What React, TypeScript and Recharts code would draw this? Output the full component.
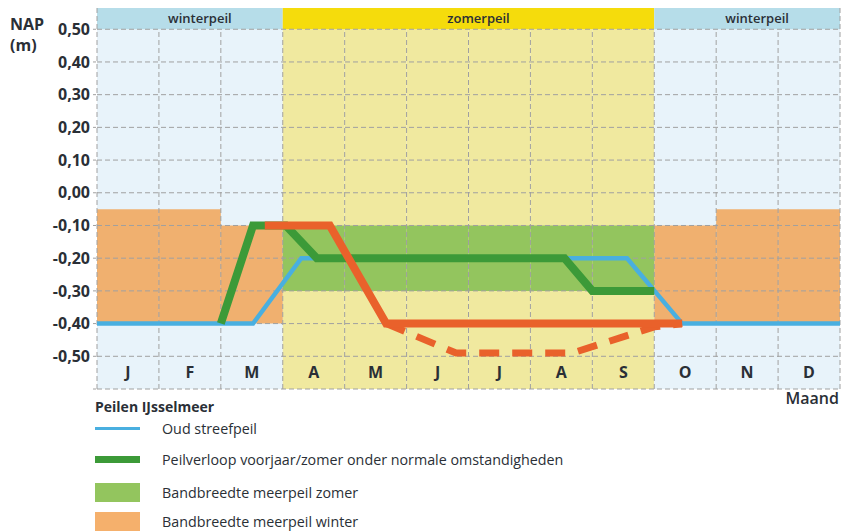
import { ComposedChart, Line, XAxis, YAxis, ReferenceArea, ReferenceLine } from 'recharts'

const MONTHS = ['J', 'F', 'M', 'A', 'M', 'J', 'J', 'A', 'S', 'O', 'N', 'D']
const SEASON = ['w', 'w', 'w', 'z', 'z', 'z', 'z', 'z', 'z', 'w', 'w', 'w']
const Y_TICKS = [0.5, 0.4, 0.3, 0.2, 0.1, 0, -0.1, -0.2, -0.3, -0.4, -0.5, -0.6]

const HEADERS = [
  { label: 'winterpeil', from: 0, to: 3, season: 'w' },
  { label: 'zomerpeil', from: 3, to: 9, season: 'z' },
  { label: 'winterpeil', from: 9, to: 12, season: 'w' },
]

// bandbreedte per maand (null = geen band)
const WINTER_BAND_TOP = [-0.05, -0.05, -0.1, null, null, null, null, null, null, -0.1, -0.05, -0.05]
const WINTER_BAND_BOTTOM = -0.4
const SUMMER_BAND_TOP = [null, null, null, -0.1, -0.1, -0.1, -0.1, -0.1, -0.1, null, null, null]
const SUMMER_BAND_BOTTOM = -0.3

const oudStreefpeil = [
  { x: 0, y: -0.4 },
  { x: 2.52, y: -0.4 },
  { x: 3.3, y: -0.2 },
  { x: 8.56, y: -0.2 },
  { x: 9.45, y: -0.4 },
  { x: 12, y: -0.4 },
]

const peilverloop = [
  { x: 2.0, y: -0.4 },
  { x: 2.52, y: -0.1 },
  { x: 3.05, y: -0.1 },
  { x: 3.55, y: -0.2 },
  { x: 7.55, y: -0.2 },
  { x: 8.0, y: -0.3 },
  { x: 9.0, y: -0.3 },
]

const flexibelPeil = [
  { x: 2.71, y: -0.1 },
  { x: 3.76, y: -0.1 },
  { x: 4.67, y: -0.4 },
  { x: 9.45, y: -0.4 },
]

const flexibelPeilDroog = [
  { x: 4.67, y: -0.4 },
  { x: 5.8, y: -0.49 },
  { x: 7.68, y: -0.49 },
  { x: 9.0, y: -0.41 },
  { x: 9.45, y: -0.4 },
]

const BG = { w: '#e8f3fa', z: '#f0e99f' }
const HEADER_BG = { w: '#b6dde9', z: '#f5dc0c' }
const GRID = '#a0a0a0'
const TEXT = '#2a2f36'

const formatTick = (v: number) => (v === -0.6 ? '' : v.toFixed(2).replace('.', ','))

function LegendRow({ swatch, label, height = 30 }: { swatch: React.ReactNode; label: string; height?: number }) {
  return (
    <div style={{ display: 'flex', alignItems: 'center', height }}>
      <div style={{ width: 67, display: 'flex', alignItems: 'center' }}>{swatch}</div>
      <span style={{ fontSize: 14.3, color: TEXT }}>{label}</span>
    </div>
  )
}

export default function App() {
  return (
    <div
      style={{
        position: 'absolute',
        left: 0,
        top: 0,
        width: 853,
        height: 532,
        background: '#fff',
        fontFamily: "'Open Sans', sans-serif",
        color: TEXT,
      }}
    >
      <div style={{ position: 'absolute', left: 10, top: 14, fontSize: 16, fontWeight: 700, lineHeight: '21px' }}>
        NAP
        <br />
        (m)
      </div>

      <ComposedChart width={853} height={400} margin={{ top: 8, right: 13, bottom: 11, left: 0 }}>
        <XAxis type="number" dataKey="x" domain={[0, 12]} hide allowDataOverflow />
        <YAxis
          type="number"
          domain={[-0.6, 0.565]}
          ticks={Y_TICKS}
          interval={0}
          width={97}
          axisLine={false}
          tickLine={{ stroke: GRID, strokeDasharray: '3 2' }}
          tickSize={4}
          tickMargin={3}
          tickFormatter={formatTick}
          tick={{ fill: TEXT, fontSize: 16, fontWeight: 700 }}
          allowDataOverflow
        />

        {MONTHS.map((m, i) => (
          <ReferenceArea
            key={`bg-${i}`}
            x1={i}
            x2={i + 1}
            y1={-0.6}
            y2={0.5}
            fill={BG[SEASON[i] as 'w' | 'z']}
            fillOpacity={1}
            stroke="none"
          />
        ))}

        {WINTER_BAND_TOP.map((top, i) =>
          top === null ? null : (
            <ReferenceArea
              key={`wb-${i}`}
              x1={i}
              x2={i + 1}
              y1={WINTER_BAND_BOTTOM}
              y2={top}
              fill="#f0b06f"
              fillOpacity={1}
              stroke="none"
            />
          )
        )}

        {SUMMER_BAND_TOP.map((top, i) =>
          top === null ? null : (
            <ReferenceArea
              key={`zb-${i}`}
              x1={i}
              x2={i + 1}
              y1={SUMMER_BAND_BOTTOM}
              y2={top}
              fill="#93c55e"
              fillOpacity={1}
              stroke="none"
            />
          )
        )}

        {HEADERS.map((h, i) => (
          <ReferenceArea
            key={`hd-${i}`}
            x1={h.from}
            x2={h.to}
            y1={0.5}
            y2={0.565}
            fill={HEADER_BG[h.season as 'w' | 'z']}
            fillOpacity={1}
            stroke="none"
            label={{ value: h.label, position: 'center', fill: TEXT, fontSize: 13, fontWeight: 600, dx: 10 }}
          />
        ))}

        {MONTHS.map((m, i) => (
          <ReferenceArea
            key={`ml-${i}`}
            x1={i}
            x2={i + 1}
            y1={-0.6}
            y2={-0.5}
            fillOpacity={0}
            stroke="none"
            label={{ value: m, position: 'center', fill: TEXT, fontSize: 16, fontWeight: 700 }}
          />
        ))}

        {Y_TICKS.map((v) => (
          <ReferenceLine key={`hg-${v}`} y={v} stroke={GRID} strokeDasharray="5 3" />
        ))}
        {MONTHS.concat(['']).map((_, i) => (
          <ReferenceLine
            key={`vg-${i}`}
            segment={[
              { x: i, y: -0.6 },
              { x: i, y: i === 0 || i === 12 ? 0.565 : 0.5 },
            ]}
            stroke={GRID}
            strokeDasharray="5 3"
          />
        ))}

        <Line
          data={oudStreefpeil}
          dataKey="y"
          stroke="#49afe0"
          strokeWidth={4.5}
          dot={false}
          isAnimationActive={false}
        />
        <Line
          data={peilverloop}
          dataKey="y"
          stroke="#3c9a38"
          strokeWidth={8}
          dot={false}
          isAnimationActive={false}
        />
        <Line
          data={flexibelPeilDroog}
          dataKey="y"
          stroke="#e9612b"
          strokeWidth={7}
          strokeDasharray="20 13"
          dot={false}
          isAnimationActive={false}
        />
        <Line
          data={flexibelPeil}
          dataKey="y"
          stroke="#e9612b"
          strokeWidth={8}
          dot={false}
          isAnimationActive={false}
        />
      </ComposedChart>

      <div style={{ position: 'absolute', right: 14, top: 387, fontSize: 16, fontWeight: 600 }}>Maand</div>

      <div style={{ position: 'absolute', left: 95, top: 398 }}>
        <div style={{ fontSize: 14, fontWeight: 700, lineHeight: '18px' }}>Peilen IJsselmeer</div>
        <LegendRow
          height={24}
          label="Oud streefpeil"
          swatch={<div style={{ width: 45, height: 3, background: '#49afe0' }} />}
        />
        <LegendRow
          height={38}
          label="Peilverloop voorjaar/zomer onder normale omstandigheden"
          swatch={<div style={{ width: 45, height: 7, background: '#3c9a38' }} />}
        />
        <LegendRow
          height={28}
          label="Bandbreedte meerpeil zomer"
          swatch={<div style={{ width: 45, height: 19, background: '#93c55e' }} />}
        />
        <LegendRow
          height={30}
          label="Bandbreedte meerpeil winter"
          swatch={<div style={{ width: 45, height: 19, background: '#f5b06c' }} />}
        />
      </div>
    </div>
  )
}
